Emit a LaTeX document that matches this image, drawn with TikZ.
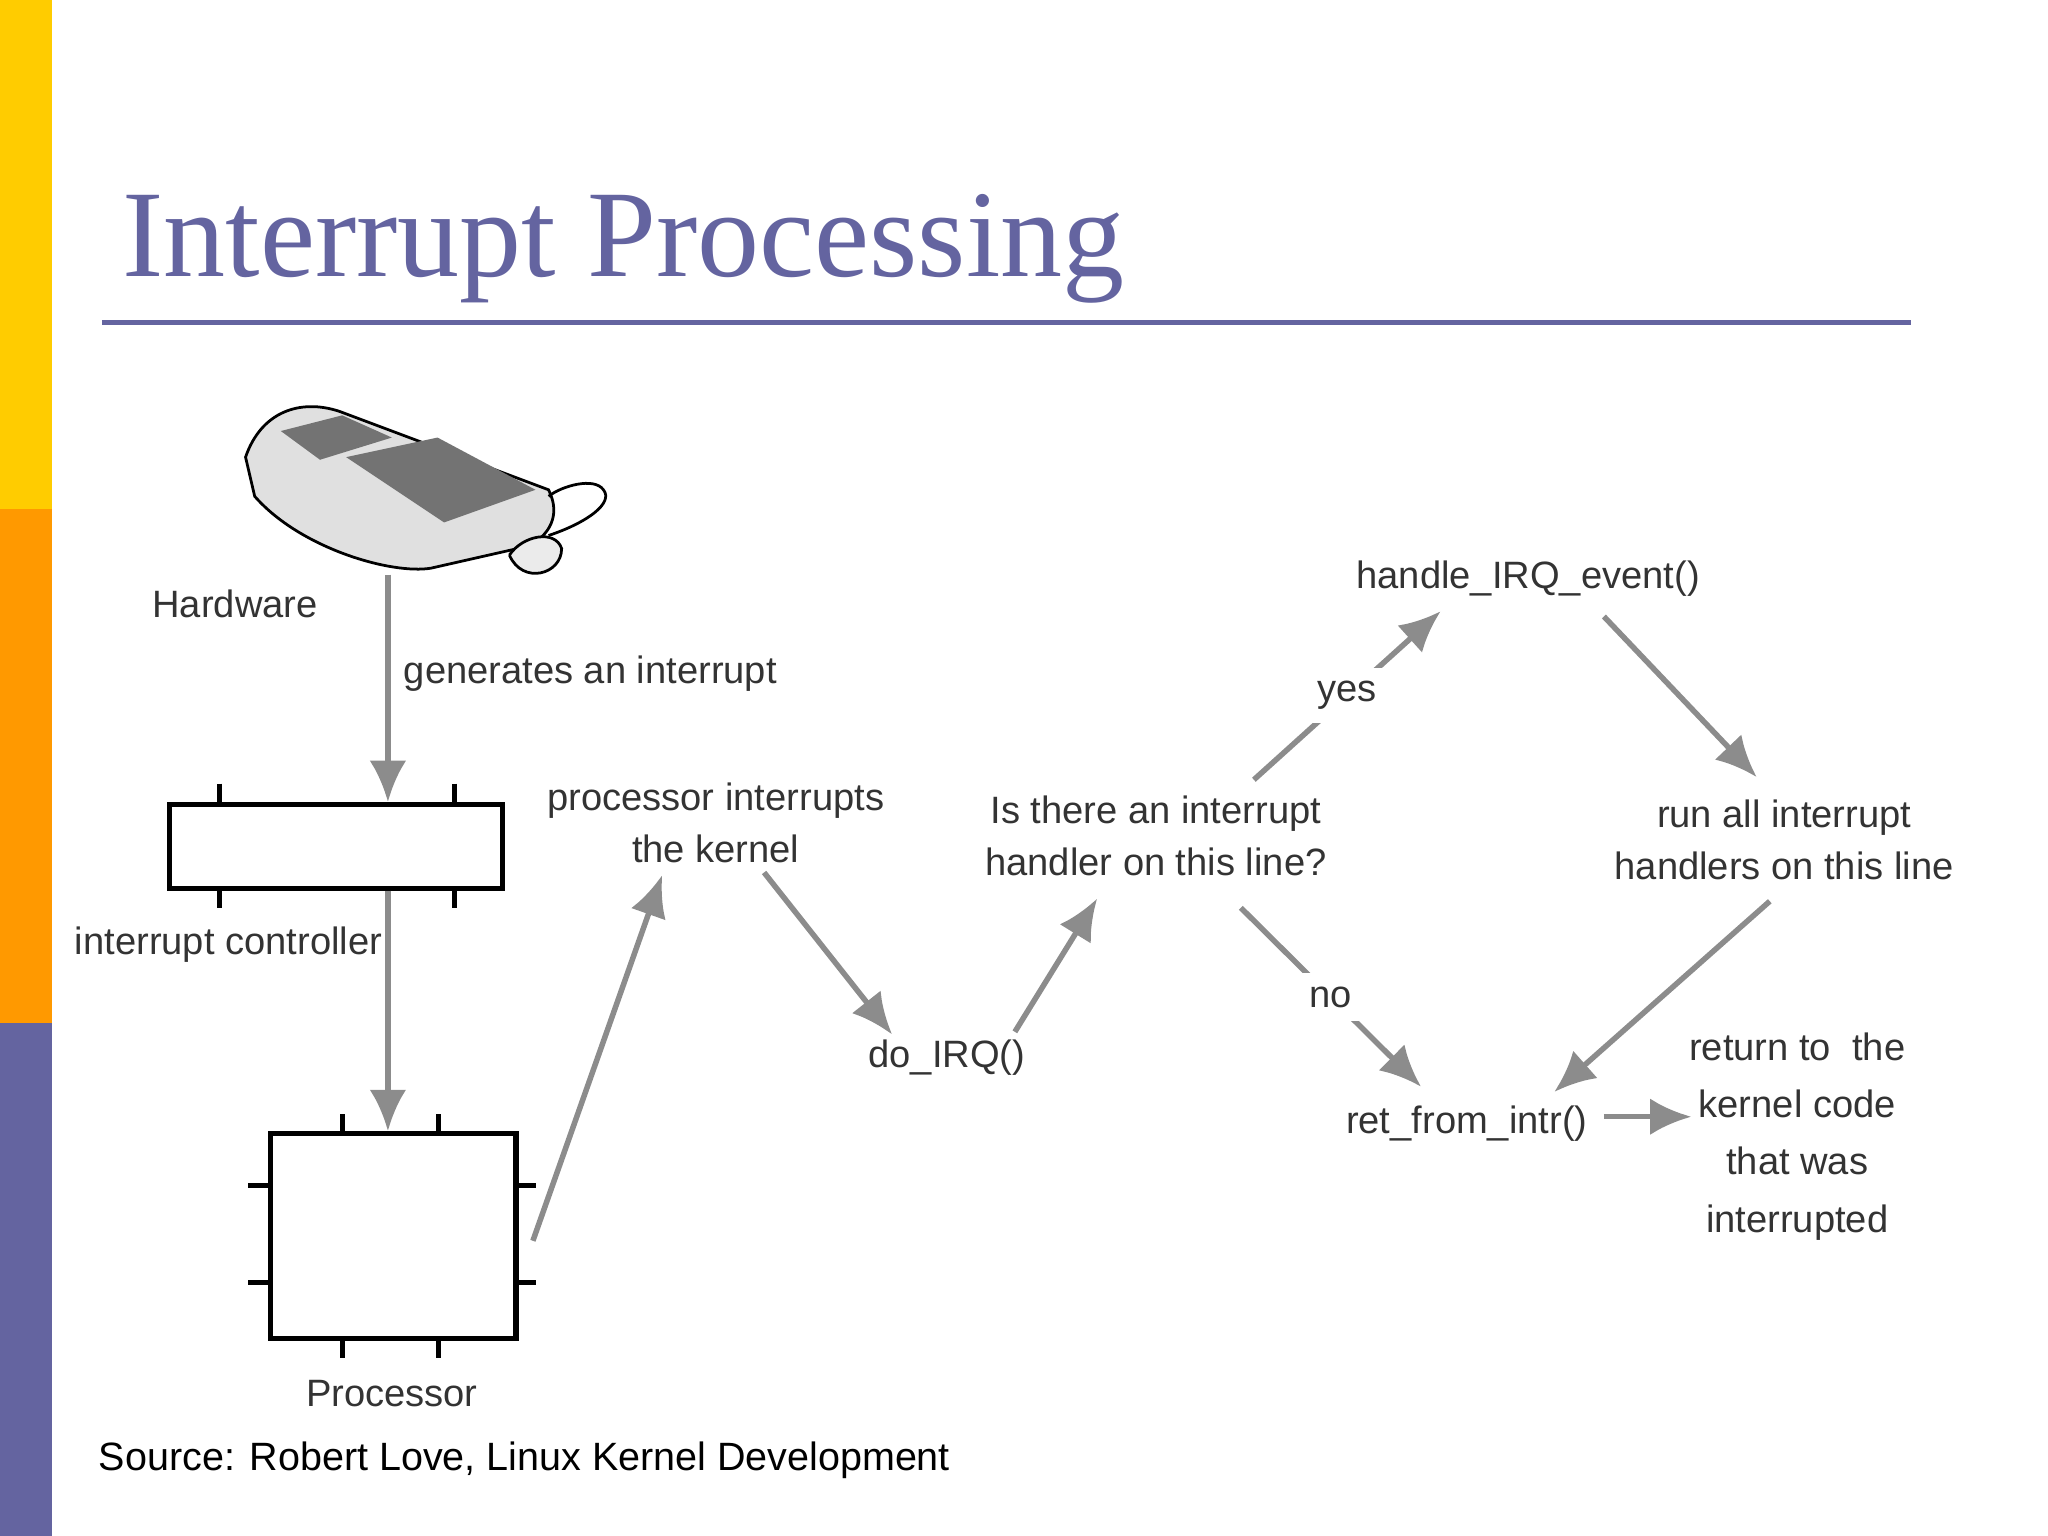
\documentclass[tikz,border=0pt]{standalone}
\usepackage{fontspec}
\setmainfont{Liberation Sans}
\newfontfamily\titlefont{Liberation Serif}
\usetikzlibrary{arrows,arrows.meta,positioning}
\definecolor{slidePurple}{RGB}{100,100,160}
\definecolor{slideYellow}{RGB}{255,204,0}
\definecolor{slideOrange}{RGB}{255,153,0}
\definecolor{arrowGray}{RGB}{140,140,140}
\tikzset{
    myArrow/.style={-{Latex[length=9pt,width=8pt]}, color=arrowGray, line width=1.2pt},
    myLabel/.style={font=\fontsize{8.3}{11.5}\selectfont, color=black!80, align=center, inner sep=1pt},
    myBox/.style={draw, line width=1.1pt},
    myTick/.style={line width=1.1pt}
}
\begin{document}
\begin{tikzpicture}[x=0.01cm,y=-0.01cm]
	\useasboundingbox (0,0) rectangle (1568,1176);
	% side bar
	\fill[slideYellow] (0,0) rectangle (40,390);
	\fill[slideOrange] (0,390) rectangle (40,783);
	\fill[slidePurple] (0,783) rectangle (40,1176);
	% title
	\node[anchor=base west, color=slidePurple, font=\titlefont\fontsize{27}{31}\selectfont, inner sep=0] (title) at (93,212) {Interrupt Processing};
	\draw[slidePurple, line width=1.2pt] (78,247) -- (1463,247);
	% keyboard
	\begin{scope}[line width=0.6pt, fill=black!12]
	\filldraw (188,350) .. controls (200,315) and (230,305) .. (260,315) -- (420,375) .. controls (430,395) and (420,410) .. (405,418) -- (330,435) .. controls (300,440) and (230,420) .. (195,380) -- cycle;
	\fill[black!55] (215,330) -- (262,318) -- (300,335) -- (245,352) -- cycle;
	\fill[black!55] (265,350) -- (335,335) -- (410,375) -- (340,400) -- cycle;
	\filldraw[fill=black!8] (390,425) .. controls (400,410) and (425,405) .. (430,420) .. controls (430,440) and (400,448) .. (390,425);
	\draw (420,410) .. controls (450,400) and (470,385) .. (462,375) .. controls (455,365) and (430,372) .. (420,380);
	\end{scope}
	\coordinate (kbd) at (297,440);
	\node[myLabel] (hw) at (180,462) {Hardware};
	% interrupt controller
	\node[myBox, minimum width=2.55cm, minimum height=0.64cm] (ctrl) at (257.5,648) {};
	\foreach \x in {168,348}{
	  \draw[myTick] (\x,600) -- (\x,616);
	  \draw[myTick] (\x,680) -- (\x,695);
	}
	\node[myLabel] (ic) at (175,723) {interrupt controller};
	% processor
	\node[myBox, minimum width=1.88cm, minimum height=1.57cm] (cpu) at (301,946.5) {};
	\foreach \x in {262,336}{
	  \draw[myTick] (\x,853) -- (\x,868);
	  \draw[myTick] (\x,1025) -- (\x,1040);
	}
	\foreach \y in {908,982}{
	  \draw[myTick] (190,\y) -- (207,\y);
	  \draw[myTick] (395,\y) -- (410,\y);
	}
	\node[myLabel] (proc) at (300,1067) {Processor};
	% labels
	\node[myLabel] (gen) at (452,516) {generates an interrupt};
	\node[myLabel] (pik) at (548,630) {processor interrupts\\the kernel};
	\node[myLabel] (doirq) at (725,810) {do\_IRQ()};
	\node[myLabel] (quest) at (885,640) {Is there an interrupt\\handler on this line?};
	\node[myLabel] (handle) at (1170,443) {handle\_IRQ\_event()};
	\node[myLabel] (runall) at (1366,643) {run all interrupt\\handlers on this line};
	\node[myLabel] (ret) at (1123,860) {ret\_from\_intr()};
	\node[myLabel] (back) at (1376,870) {return to~ the\\[1pt]kernel code\\[1pt]that was\\[1pt]interrupted};
	% connector ends
	\coordinate (cpuOut) at (408,950);
	\coordinate (pikIn) at (507,670);
	\coordinate (pikOut) at (585,668);
	\coordinate (doIn) at (683,792);
	\coordinate (doOut) at (777,790);
	\coordinate (qIn) at (840,688);
	\coordinate (qYes) at (960,597);
	\coordinate (hIn) at (1103,468);
	\coordinate (hOut) at (1228,472);
	\coordinate (rIn) at (1345,595);
	\coordinate (rOut) at (1355,690);
	\coordinate (retInR) at (1190,836);
	\coordinate (qNo) at (950,695);
	\coordinate (retInL) at (1088,832);
	\coordinate (retOut) at (1228,855);
	\coordinate (backIn) at (1295,855);
	% arrows
	\draw[myArrow] (kbd) -- (ctrl.north -| kbd);
	\draw[myArrow] (ctrl.south -| kbd) -- (cpu.north -| kbd);
	\draw[myArrow] (cpuOut) -- (pikIn);
	\draw[myArrow] (pikOut) -- (doIn);
	\draw[myArrow] (doOut) -- (qIn);
	\draw[myArrow] (qYes) -- node[myLabel, fill=white, inner sep=3pt] {yes} (hIn);
	\draw[myArrow] (hOut) -- (rIn);
	\draw[myArrow] (rOut) -- (retInR);
	\draw[myArrow] (qNo) -- node[myLabel, fill=white, inner sep=3pt] {no} (retInL);
	\draw[myArrow] (retOut) -- (backIn);
	% source
	\node[anchor=west, font=\fontsize{8.6}{11}\selectfont, inner sep=0] (src) at (75,1118) {Source: Robert Love, Linux Kernel Development};
\end{tikzpicture}
\end{document}
